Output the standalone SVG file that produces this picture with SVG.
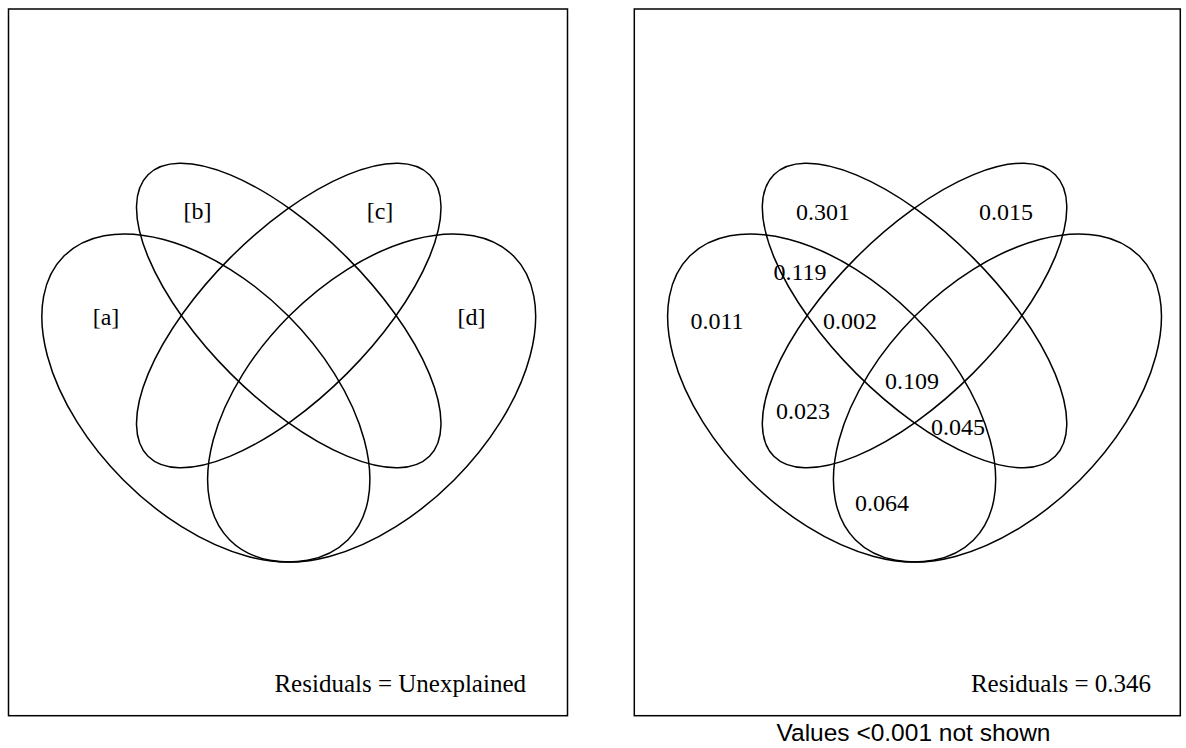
<svg xmlns="http://www.w3.org/2000/svg" width="1186" height="748" viewBox="0 0 1186 748">
<style>
.bx{fill:none;stroke:#000;stroke-width:1.5}
.e{fill:none;stroke:#000;stroke-width:1.5}
.t{font-family:"Liberation Serif","Times New Roman",serif;font-size:24px;fill:#000;text-anchor:middle}
.r{font-family:"Liberation Serif","Times New Roman",serif;font-size:25px;fill:#000;text-anchor:end}
.s{font-family:"Liberation Sans",Arial,sans-serif;font-size:24.5px;fill:#000;text-anchor:middle}
</style>
<defs>
<g id="venn">
<ellipse class="e" cx="205.85" cy="398" rx="200.7" ry="116.3" transform="rotate(45 205.85 398)"/>
<ellipse class="e" cx="371.65" cy="398" rx="200.7" ry="116.3" transform="rotate(-45 371.65 398)"/>
<ellipse class="e" cx="288.75" cy="315.5" rx="199" ry="82.2" transform="rotate(45 288.75 315.5)"/>
<ellipse class="e" cx="288.75" cy="315.5" rx="199" ry="82.2" transform="rotate(-45 288.75 315.5)"/>
</g>
</defs>
<g id="left-panel">
<rect class="bx" x="8.5" y="9" width="559" height="706.7"/>
<use href="#venn"/>
<g id="labels-left">
<text class="t" x="106" y="325">[a]</text>
<text class="t" x="197.5" y="219">[b]</text>
<text class="t" x="380" y="219">[c]</text>
<text class="t" x="471.5" y="325">[d]</text>
<text class="r" x="526" y="692">Residuals = Unexplained</text>
</g>
</g>
<g id="right-panel">
<rect class="bx" x="634.3" y="9" width="546" height="706.7"/>
<use href="#venn" transform="translate(625.8 0)"/>
<g id="labels-right">
<text class="t" x="823" y="220">0.301</text>
<text class="t" x="1006" y="220">0.015</text>
<text class="t" x="800" y="280">0.119</text>
<text class="t" x="717" y="329">0.011</text>
<text class="t" x="850" y="329">0.002</text>
<text class="t" x="912" y="389">0.109</text>
<text class="t" x="803" y="419">0.023</text>
<text class="t" x="958" y="435">0.045</text>
<text class="t" x="882" y="511">0.064</text>
<text class="r" x="1151" y="692">Residuals = 0.346</text>
</g>
</g>
<text class="s" x="913.5" y="741">Values &lt;0.001 not shown</text>
</svg>
